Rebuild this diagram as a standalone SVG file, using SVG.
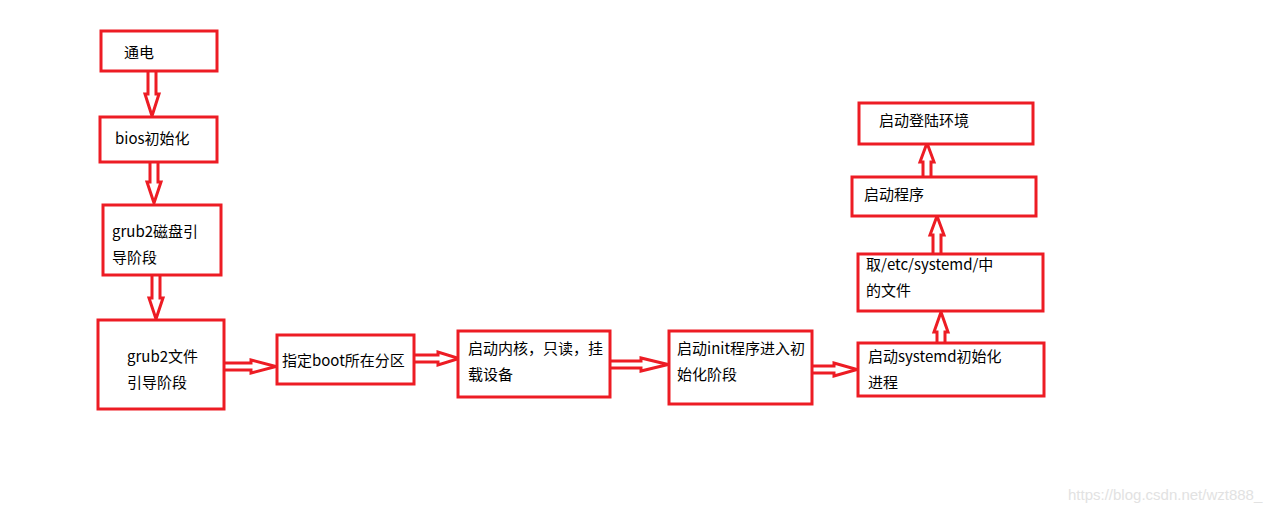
<svg xmlns="http://www.w3.org/2000/svg" width="1281" height="512" viewBox="0 0 1281 512">
<style>
.box{fill:#fff;stroke:#ed1c24;stroke-width:3}
.arr{fill:#fff;stroke:#ed1c24;stroke-width:3;stroke-linejoin:miter}
.t{font-family:"Microsoft YaHei","Noto Sans CJK SC","Noto Sans",sans-serif;font-size:15px;fill:#000}
.wm{font-family:"Liberation Sans",Arial,sans-serif;font-size:15px;fill:#e2e2e2}
</style>
<rect width="1281" height="512" fill="#fff"/>
<g id="connectors">
<path class="arr" d="M148,72 V94 H145 L152,116 L159,94 H156 V72"/>
<path class="arr" d="M150,162 V182 H147 L154,203 L161,182 H158 V162"/>
<path class="arr" d="M152,275 V298 H149 L156,319 L163,298 H160 V275"/>
<path class="arr" d="M224,363 H251 V360 L276,366.5 L251,373 V370 H224"/>
<path class="arr" d="M414,355 H438 V352 L459,358.5 L438,365 V362 H414"/>
<path class="arr" d="M611,361 H641 V358 L668,364.5 L641,371 V368 H611"/>
<path class="arr" d="M813,366 H834 V363 L857,369.5 L834,376 V373 H813"/>
<path class="arr" d="M937,342 V332 H934 L941,312 L948,332 H945 V342"/>
<path class="arr" d="M933,253 V235 H930 L937,216 L944,235 H941 V253"/>
<path class="arr" d="M923,176 V162 H920 L927,143 L934,162 H931 V176"/>
</g>
<g id="n1"><rect class="box" x="101" y="31" width="116" height="40"/><text class="t" x="124" y="58">通电</text></g>
<g id="n2"><rect class="box" x="100" y="117" width="117" height="45"/><text class="t" x="115" y="144">bios初始化</text></g>
<g id="n3"><rect class="box" x="103" y="205" width="118" height="70"/><text class="t" x="112" y="237">grub2磁盘引</text><text class="t" x="112" y="263">导阶段</text></g>
<g id="n4"><rect class="box" x="98" y="320" width="126" height="89"/><text class="t" x="127" y="362">grub2文件</text><text class="t" x="127" y="388">引导阶段</text></g>
<g id="n5"><rect class="box" x="277" y="335" width="137" height="49"/><text class="t" x="282" y="366">指定boot所在分区</text></g>
<g id="n6"><rect class="box" x="458" y="331" width="152" height="66"/><text class="t" x="468" y="354">启动内核，只读，挂</text><text class="t" x="468" y="380">载设备</text></g>
<g id="n7"><rect class="box" x="669" y="331" width="143" height="73"/><text class="t" x="677" y="354">启动init程序进入初</text><text class="t" x="677" y="380">始化阶段</text></g>
<g id="n8"><rect class="box" x="858" y="343" width="186" height="53"/><text class="t" x="868" y="362">启动systemd初始化</text><text class="t" x="868" y="388">进程</text></g>
<g id="n9"><rect class="box" x="858" y="254" width="185" height="57"/><text class="t" x="866" y="270">取/etc/systemd/中</text><text class="t" x="866" y="296">的文件</text></g>
<g id="n10"><rect class="box" x="852" y="177" width="184" height="39"/><text class="t" x="864" y="200">启动程序</text></g>
<g id="n11"><rect class="box" x="859" y="103" width="174" height="41"/><text class="t" x="879" y="126">启动登陆环境</text></g>
<text class="wm" x="1068" y="500">https://blog.csdn.net/wzt888_</text>
</svg>
